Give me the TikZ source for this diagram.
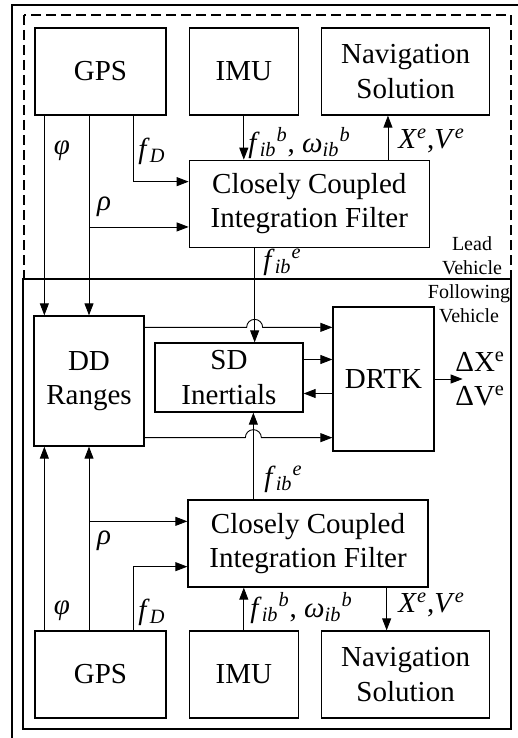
\documentclass[tikz,border=0pt]{standalone}
\usepackage{fontspec}
\setmainfont{Liberation Serif}
\usetikzlibrary{arrows.meta, positioning, calc}
\tikzset{
  block/.style={rectangle, draw, line width=0.65pt, align=center, inner sep=0pt,
    font=\fontsize{14.5}{17.2}\selectfont},
  arrow/.style={-{Triangle[length=6pt, width=4.5pt]}, line width=0.45pt},
  lbl/.style={inner sep=0pt, align=left, font=\fontsize{14.5}{17}\selectfont},
  vehtag/.style={inner sep=0pt, align=center, font=\fontsize{10}{12}\selectfont},
  leadbox/.style={draw, dash pattern=on 5pt off 2.5pt, line width=0.6pt},
  followbox/.style={draw, line width=0.6pt},
}

\begin{document}
\begin{tikzpicture}[x=0.5pt, y=-0.5pt]
  \useasboundingbox (0,0) rectangle (518,738);
  \clip (0,0) rectangle (518,738);

  % frames
  \draw[line width=0.6pt] (12,5) rectangle (540,760);
  \draw[leadbox] (24,15) rectangle (511,279);
  \draw[followbox] (23,279) rectangle (511,729);
  \node[vehtag] (leadtag) at (472,256) {Lead\\Vehicle};
  \node[vehtag] (followtag) at (469,304) {Following\\Vehicle};

  % lead vehicle
  \node[block, minimum width=65.5pt, minimum height=43.5pt]
    (gpsT) at (100.5,71.5) {GPS};
  \node[block, minimum width=54.5pt, minimum height=43.5pt, right=11pt of gpsT]
    (imuT) {IMU};
  \node[block, minimum width=84pt, minimum height=43.5pt, right=11pt of imuT]
    (navT) {Navigation\\Solution};
  \node[block, minimum width=120pt, minimum height=43.5pt,
    below right=22pt and 0pt of imuT.south west]
    (ccifT) {Closely Coupled\\Integration Filter};

  % following vehicle
  \node[block, minimum width=55pt, minimum height=65pt]
    (dd) at (89,381) {DD\\Ranges};
  \node[block, minimum width=74pt, minimum height=34.5pt]
    (sd) at (229,377.5) {SD\\Inertials};
  \node[block, minimum width=50.5pt, minimum height=72pt]
    (drtk) at (383.5,379) {DRTK};
  \node[block, minimum width=120pt, minimum height=43.5pt]
    (ccifB) at (308,543.5) {Closely Coupled\\Integration Filter};
  \node[block, minimum width=65.5pt, minimum height=43.5pt]
    (gpsB) at (100.5,674.5) {GPS};
  \node[block, minimum width=54.5pt, minimum height=43.5pt, right=11pt of gpsB]
    (imuB) {IMU};
  \node[block, minimum width=84pt, minimum height=43.5pt, right=11pt of imuB]
    (navB) {Navigation\\Solution};

  % taps
  \coordinate (phiT) at ($(dd.north west)+(11,0)$);
  \coordinate (phiB) at ($(dd.south west)+(11,0)$);
  \coordinate (rhoT) at ($(ccifT.south west)+(0,-21)$);
  \coordinate (rhoB) at ($(ccifB.north west)+(0,22)$);
  \coordinate (fdT) at ($(ccifT.north west)+(0,22)$);
  \coordinate (fdB) at ($(ccifB.south west)+(0,-21)$);
  \coordinate (fdxT) at ($(gpsT.south east)+(-33,0)$);
  \coordinate (fdxB) at ($(gpsB.north east)+(-33,0)$);
  \coordinate (fibT) at ($(ccifT.south west)+(66,0)$);
  \coordinate (fibB) at ($(ccifB.north west)+(66,0)$);
  \coordinate (xvT) at ($(ccifT.north east)+(-42,0)$);
  \coordinate (xvB) at ($(ccifB.south east)+(-42,0)$);
  \coordinate (ddU) at ($(dd.north east)+(0,12)$);
  \coordinate (ddL) at ($(dd.south east)+(0,-9)$);
  \coordinate (sdA) at ($(sd.east)+(0,-18)$);
  \coordinate (sdB) at ($(sd.east)+(0,16)$);
  \coordinate (dtip) at ($(drtk.east)+(28,0)$);

  \draw[arrow] (gpsT.south -| phiT) -- (phiT);
  \draw[arrow] (gpsT.south -| dd.north) -- (dd.north);
  \draw[arrow] (rhoT -| dd.north) -- (rhoT);
  \draw[arrow] (fdxT) |- (fdT);
  \draw[arrow] (imuT.south) -- (imuT.south |- ccifT.north);
  \draw[arrow] (xvT) -- (xvT |- navT.south);
  \draw[arrow] (fibT) -- (fibT |- sd.north);

  \draw[arrow] (gpsB.north -| phiB) -- (phiB);
  \draw[arrow] (gpsB.north -| dd.south) -- (dd.south);
  \draw[arrow] (rhoB -| dd.south) -- (rhoB);
  \draw[arrow] (fdxB) |- (fdB);
  \draw[arrow] (imuB.north) -- (imuB.north |- ccifB.south);
  \draw[arrow] (xvB) -- (xvB |- navB.north);
  \draw[arrow] (fibB) -- (fibB |- sd.south);

  \draw[arrow] (ddU) -- ($(fibT |- ddU)+(-8,0)$)
    arc[start angle=180, end angle=0, radius=4pt] -- (ddU -| drtk.west);
  \draw[arrow] (ddL) -- ($(fibB |- ddL)+(-8,0)$)
    arc[start angle=180, end angle=0, radius=4pt] -- (ddL -| drtk.west);
  \draw[arrow] (sdA) -- (sdA -| drtk.west);
  \draw[arrow] (sdB -| drtk.west) -- (sdB);
  \draw[arrow] (drtk.east) -- (dtip);

  % labels
  \node[lbl] (phiLT) at (62,151) {\textit{φ}};
  \node[lbl] (fdLT) at (152,151) {\textit{f}\textsubscript{\textit{D}}};
  \node[lbl] (rhoLT) at (104,207) {\textit{ρ}};
  \node[lbl, anchor=west] (imuLT) at (248,143)
    {\textit{f}\textsubscript{\textit{ib}}\textsuperscript{\textit{b}}, \textit{ω}\textsubscript{\textit{ib}}\textsuperscript{\textit{b}}};
  \node[lbl, anchor=west] (xvLT) at (398,141)
    {\textit{X}\textsuperscript{\textit{e}},\textit{V}\textsuperscript{\textit{e}}};
  \node[lbl, anchor=west] (fibLT) at (263,262)
    {\textit{f}\textsubscript{\textit{ib}}\textsuperscript{\textit{e}}};
  \node[lbl, anchor=west] (fibLB) at (264,479)
    {\textit{f}\textsubscript{\textit{ib}}\textsuperscript{\textit{e}}};
  \node[lbl] (rhoLB) at (104,541) {\textit{ρ}};
  \node[lbl] (phiLB) at (62,611) {\textit{φ}};
  \node[lbl] (fdLB) at (152,612) {\textit{f}\textsubscript{\textit{D}}};
  \node[lbl, anchor=west] (imuLB) at (250,608)
    {\textit{f}\textsubscript{\textit{ib}}\textsuperscript{\textit{b}}, \textit{ω}\textsubscript{\textit{ib}}\textsuperscript{\textit{b}}};
  \node[lbl, anchor=west] (xvLB) at (398,605)
    {\textit{X}\textsuperscript{\textit{e}},\textit{V}\textsuperscript{\textit{e}}};
  \node[lbl, anchor=west] (dout) at (455,379)
    {ΔX\textsuperscript{e}\\ΔV\textsuperscript{e}};
\end{tikzpicture}
\end{document}
